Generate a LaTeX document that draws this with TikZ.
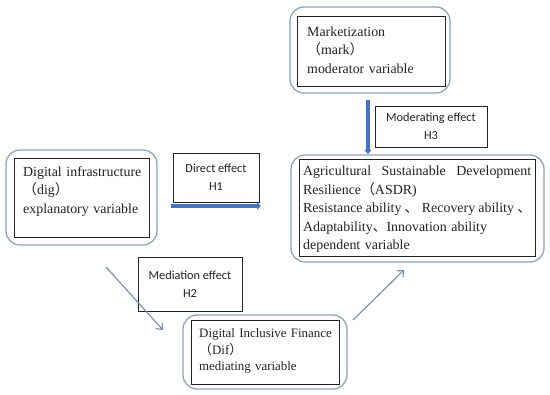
\documentclass[tikz,border=0pt]{standalone}
\usepackage{fontspec}
\setmainfont{Liberation Serif}
\newfontfamily\lblfont{Carlito}
\newfontfamily\cjk{Noto Sans CJK SC}
\usetikzlibrary{arrows.meta}
\definecolor{outerc}{HTML}{8DA3C2}
\definecolor{thickc}{HTML}{4472C4}
\definecolor{thinc}{HTML}{6E8AB4}
\definecolor{txtc}{HTML}{222222}
\tikzset{
  outerbox/.style={draw=outerc, line width=1.3pt, rounded corners=14pt, minimum width=#1},
  innerbox/.style={draw=txtc, line width=1pt},
  boxtext/.style={inner sep=0pt, anchor=west, align=left, text=txtc, font=\fontsize{13.9}{18.5}\selectfont},
  lblbox/.style={draw=txtc, line width=0.9pt, align=center, text=txtc, font=\lblfont\fontsize{12.3}{17.5}\selectfont},
  thickarrow/.style={draw=thickc, line width=3.5pt, -{Triangle[length=4pt,width=7pt]}},
  thinarrow/.style={draw=thinc, line width=1.1pt, -{Straight Barb[length=5pt,width=9pt]}}
}
\begin{document}
\begin{tikzpicture}[x=1pt,y=-1pt]
\useasboundingbox (0,0) rectangle (550,395);
% Digital infrastructure
\node[outerbox=151pt, minimum height=95pt] (digout) at (81.5,197.5) {};
\node[innerbox, minimum width=135pt, minimum height=79pt] (digin) at (81.5,198.5) {};
\node[boxtext, text width=130pt] (digtxt) at (23,191.5) {Digital infrastructure\\{\cjk （}dig{\cjk ）}\\explanatory variable};
% Marketization
\node[outerbox=160pt, minimum height=86pt] (markout) at (370,50) {};
\node[innerbox, minimum width=148pt, minimum height=70pt] (markin) at (371,52) {};
\node[boxtext, text width=135pt] (marktxt) at (307,50) {Marketization\\{\cjk （}mark{\cjk ）}\\moderator variable};
% ASDR
\node[outerbox=253pt, minimum height=107pt] (asdrout) at (417.5,208.5) {};
\node[innerbox, minimum width=236pt, minimum height=97pt] (asdrin) at (417,208.5) {};
\node[boxtext, text width=228pt] (asdrtxt) at (303,209.5) {\leavevmode\hbox to 228pt{Agricultural\hfill Sustainable\hfill Development}\\Resilience{\cjk （}ASDR)\\\leavevmode\hbox to 228pt{Resistance\hfill ability\hfill{\cjk 、}\hfill Recovery\hfill ability\hfill{\cjk 、}}\\Adaptability{\cjk 、}Innovation ability\\dependent variable};
% Dif
\node[outerbox=164pt, minimum height=74pt] (difout) at (265,352) {};
\node[innerbox, minimum width=148pt, minimum height=64pt] (difin) at (265,353) {};
\node[boxtext, text width=140pt, font=\fontsize{12.9}{16.5}\selectfont] (diftxt) at (199,351) {Digital Inclusive Finance\\{\cjk （}Dif{\cjk ）}\\mediating variable};
% labels
\node[lblbox, minimum width=86pt, minimum height=49pt] (direct) at (216,177.5) {Direct effect\\H1};
\node[lblbox, minimum width=112pt, minimum height=41pt] (moder) at (431,126.5) {Moderating effect\\H3};
\node[lblbox, minimum width=104pt, minimum height=54pt] (media) at (190,284) {Mediation effect\\H2};
% arrows
\coordinate (d1) at (171,206);
\coordinate (d2) at (261,206);
\draw[thickarrow] (d1) -- (d2);
\coordinate (m1) at (368,100);
\coordinate (m2) at (368,154);
\draw[thickarrow] (m1) -- (m2);
\coordinate (h1) at (106,267);
\coordinate (h2) at (163,330);
\draw[thinarrow] (h1) -- (h2);
\coordinate (f1) at (353,320);
\coordinate (f2) at (404,270);
\draw[thinarrow] (f1) -- (f2);
\end{tikzpicture}
\end{document}
